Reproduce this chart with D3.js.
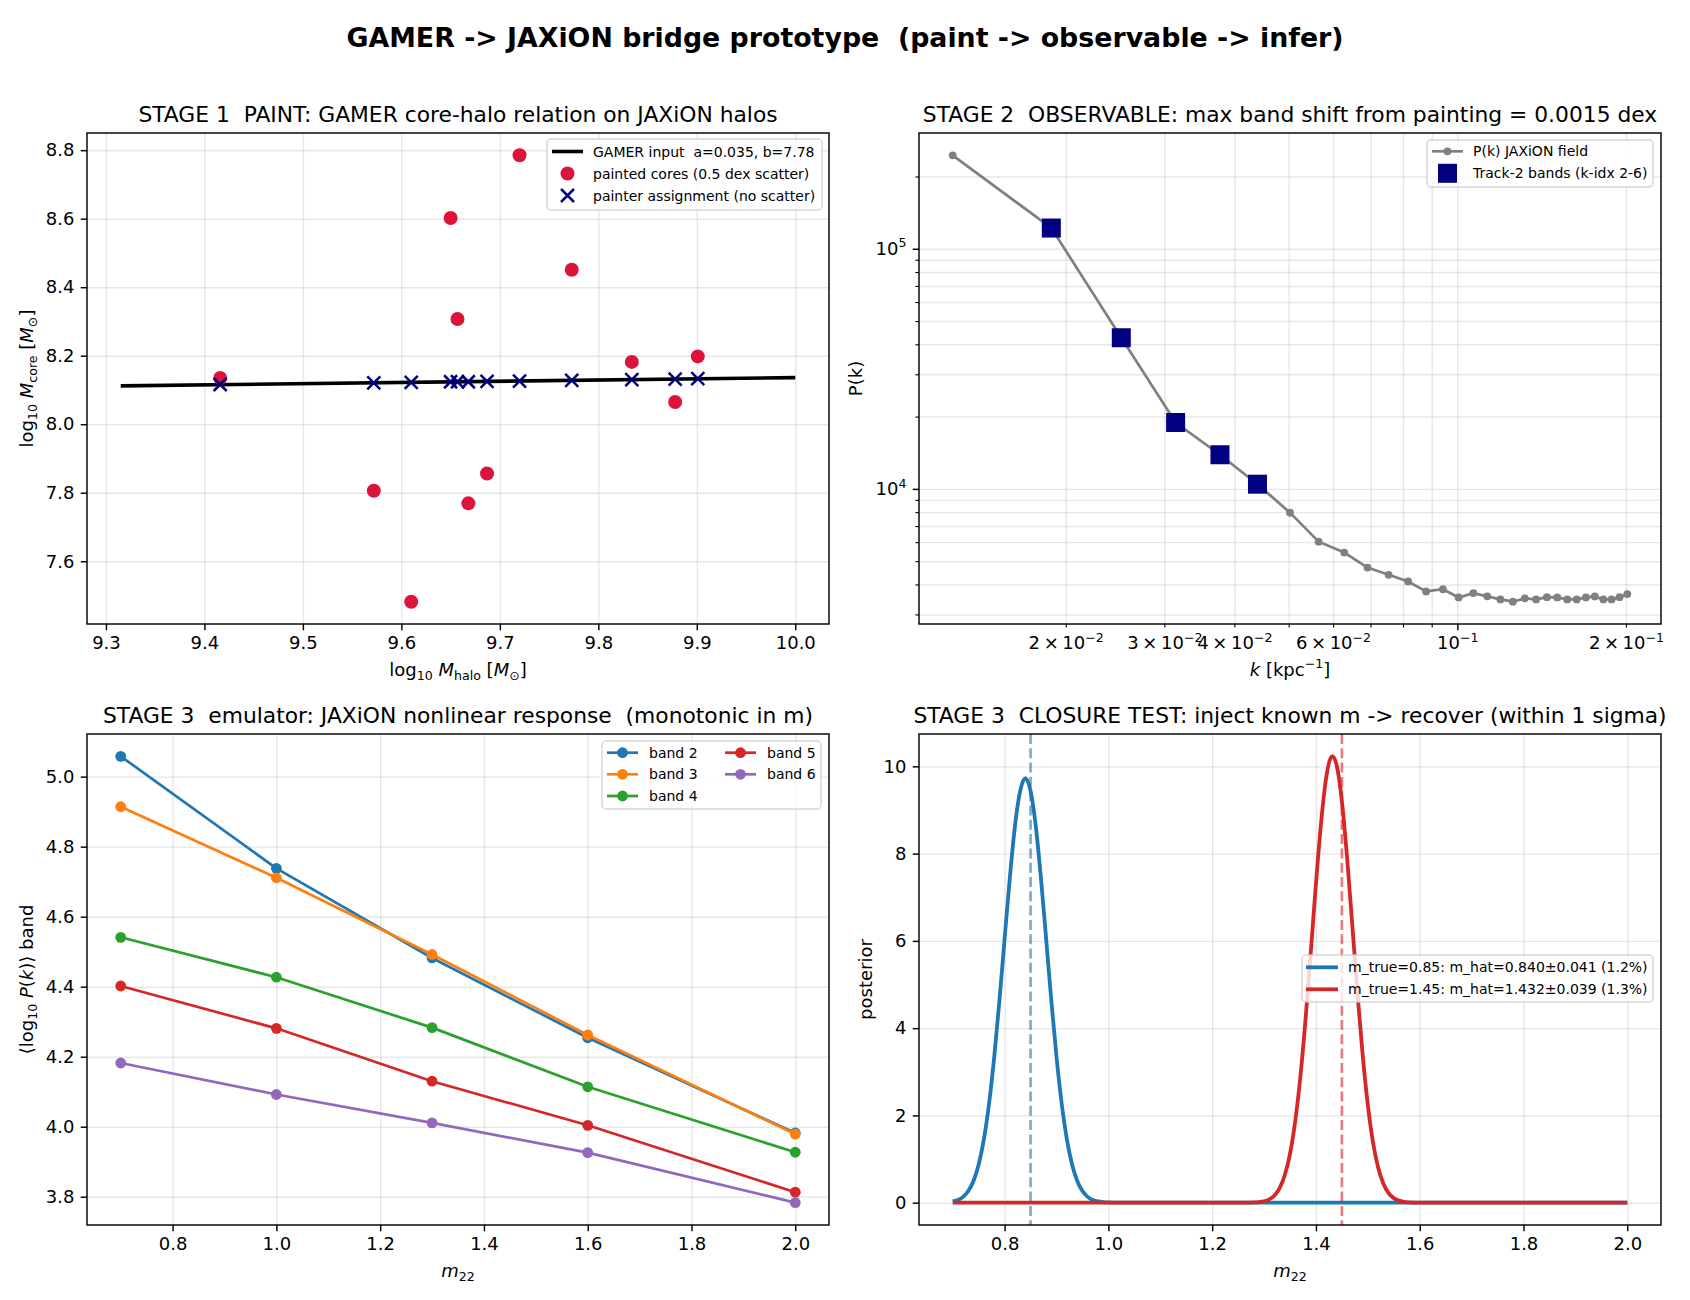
<!DOCTYPE html>
<html>
<head>
<meta charset="utf-8">
<script src="https://cdn.jsdelivr.net/npm/d3@7"></script>
<style>
body { margin: 0; background: #fff; }
text { font-family: "DejaVu Sans", sans-serif; white-space: pre; }
</style>
</head>
<body>
<div id="fig"></div>
<script>
// ---------------------------------------------------------------
// DATA
// ---------------------------------------------------------------

// Stage 1 - paint
var haloLogM      = [9.416, 9.720, 9.650, 9.773, 9.657, 9.834, 9.901, 9.878, 9.572, 9.687, 9.668, 9.610];
var paintedLogMc  = [8.135, 8.785, 8.602, 8.451, 8.307, 8.182, 8.198, 8.065, 7.806, 7.856, 7.769, 7.482];
var assignedLogMc = [8.116, 8.126, 8.124, 8.128, 8.124, 8.130, 8.133, 8.132, 8.121, 8.125, 8.124, 8.122];
var gamerLineX = [9.315, 10.0];
var gamerLineY = [8.112, 8.136];
var tlXTicks = [9.3, 9.4, 9.5, 9.6, 9.7, 9.8, 9.9, 10.0];
var tlXTickLabels = ["9.3", "9.4", "9.5", "9.6", "9.7", "9.8", "9.9", "10.0"];
var tlYTicks = [7.6, 7.8, 8.0, 8.2, 8.4, 8.6, 8.8];
var tlYTickLabels = ["7.6", "7.8", "8.0", "8.2", "8.4", "8.6", "8.8"];
var tlLegendLabels = ["GAMER input  a=0.035, b=7.78", "painted cores (0.5 dex scatter)", "painter assignment (no scatter)"];

// Stage 2 - observable
var kVals = [0.01257, 0.01885, 0.02513, 0.03142, 0.03770, 0.04398, 0.05027, 0.05655, 0.06283, 0.06912,
             0.07540, 0.08168, 0.08796, 0.09425, 0.10053, 0.10681, 0.11310, 0.11938, 0.12566, 0.13195,
             0.13823, 0.14451, 0.15080, 0.15708, 0.16336, 0.16965, 0.17593, 0.18221, 0.18850, 0.19478, 0.20106];
var pkVals = [245000, 122000, 42600, 18900, 13870, 10460, 7960, 6030, 5430, 4700,
              4385, 4115, 3740, 3820, 3530, 3680, 3568, 3465, 3390, 3500,
              3465, 3540, 3530, 3465, 3465, 3532, 3565, 3465, 3465, 3540, 3648];
var bandIdx = [1, 2, 3, 4, 5];
var trXMajor = [0.1];
var trXMinor = [0.02, 0.03, 0.04, 0.05, 0.06, 0.07, 0.08, 0.09, 0.2];
var trXLabelTicks = [0.02, 0.03, 0.04, 0.06, 0.1, 0.2];
var trXTickLabels = ["2\u2009×\u200910^\u22122", "3\u2009×\u200910^\u22122", "4\u2009×\u200910^\u22122",
                     "6\u2009×\u200910^\u22122", "10^\u22121", "2\u2009×\u200910^\u22121"];
var trYMajor = [1e4, 1e5];
var trYTickLabels = ["10^4", "10^5"];
var trYMinor = [3e3, 4e3, 5e3, 6e3, 7e3, 8e3, 9e3, 2e4, 3e4, 4e4, 5e4, 6e4, 7e4, 8e4, 9e4, 2e5];
var trLegendLabels = ["P(k) JAXiON field", "Track-2 bands (k-idx 2-6)"];

// Stage 3 - emulator
var m22 = [0.7, 1.0, 1.3, 1.6, 2.0];
var band2 = [5.058, 4.738, 4.482, 4.254, 3.982];
var band3 = [4.914, 4.711, 4.492, 4.262, 3.979];
var band4 = [4.541, 4.427, 4.283, 4.114, 3.927];
var band5 = [4.402, 4.281, 4.130, 4.004, 3.813];
var band6 = [4.182, 4.092, 4.011, 3.926, 3.783];
var bandNames = ["band 2", "band 3", "band 4", "band 5", "band 6"];
var blXTicks = [0.8, 1.0, 1.2, 1.4, 1.6, 1.8, 2.0];
var blXTickLabels = ["0.8", "1.0", "1.2", "1.4", "1.6", "1.8", "2.0"];
var blYTicks = [3.8, 4.0, 4.2, 4.4, 4.6, 4.8, 5.0];
var blYTickLabels = ["3.8", "4.0", "4.2", "4.4", "4.6", "4.8", "5.0"];

// Stage 3 - closure test
var postXBlue = [0.70, 0.71, 0.72, 0.73, 0.74, 0.75, 0.76, 0.77, 0.78, 0.79, 0.80, 0.81, 0.82, 0.83, 0.84,
                 0.85, 0.86, 0.87, 0.88, 0.89, 0.90, 0.91, 0.92, 0.93, 0.94, 0.95, 0.96, 0.97, 0.98, 0.99,
                 1.00, 1.02, 2.00];
var postYBlue = [0.029, 0.064, 0.134, 0.266, 0.497, 0.875, 1.45, 2.27, 3.34, 4.63, 6.05, 7.44, 8.64, 9.44, 9.73,
                 9.44, 8.64, 7.44, 6.05, 4.63, 3.34, 2.27, 1.45, 0.875, 0.497, 0.266, 0.134, 0.064, 0.029, 0.012,
                 0.005, 0, 0];
var postXRed = [0.70, 1.27, 1.28, 1.29, 1.30, 1.31, 1.32, 1.33, 1.34, 1.35, 1.36, 1.37, 1.38, 1.39, 1.40,
                1.41, 1.42, 1.43, 1.432, 1.44, 1.45, 1.46, 1.47, 1.48, 1.49, 1.50, 1.51, 1.52, 1.53, 1.54,
                1.55, 1.56, 1.57, 1.58, 1.59, 1.61, 2.00];
var postYRed = [0, 0.002, 0.005, 0.014, 0.033, 0.077, 0.166, 0.335, 0.633, 1.12, 1.86, 2.89, 4.21, 5.73, 7.31,
                8.72, 9.76, 10.22, 10.23, 10.02, 9.20, 7.91, 6.37, 4.80, 3.39, 2.24, 1.38, 0.80, 0.436, 0.221,
                0.105, 0.047, 0.019, 0.008, 0.003, 0, 0];
var mTrue = [0.85, 1.45];
var brYTicks = [0, 2, 4, 6, 8, 10];
var brYTickLabels = ["0", "2", "4", "6", "8", "10"];
var brLegendLabels = ["m_true=0.85: m_hat=0.840±0.041 (1.2%)", "m_true=1.45: m_hat=1.432±0.039 (1.3%)"];

// ---------------------------------------------------------------
// SETUP
// ---------------------------------------------------------------
var W = 1690, H = 1300;
var FONT = "DejaVu Sans";
var FS_TICK = 18, FS_LAB = 18, FS_TITLE = 21.8, FS_LEG = 14;
var TICK = 6.3, MINOR = 3.6, LW = 1.44;
var bandColors = ["#1f77b4", "#ff7f0e", "#2ca02c", "#d62728", "#9467bd"];

var svg = d3.select("#fig").append("svg").attr("width", W).attr("height", H);
svg.append("rect").attr("width", W).attr("height", H).attr("fill", "#fff");

var boxes = {
    tl: {x: 87,  y: 133, w: 742, h: 491},
    tr: {x: 919, y: 133, w: 742, h: 491},
    bl: {x: 87,  y: 734, w: 742, h: 491},
    br: {x: 919, y: 734, w: 742, h: 491}
};

function padded(lo, hi) {
    var d = (hi - lo) * 0.05;
    return [lo - d, hi + d];
}

function panel(b) {
    var g = svg.append("g").attr("transform", "translate(" + b.x + "," + b.y + ")");
    return { g: g, grid: g.append("g"), data: g.append("g"), axes: g.append("g"), leg: g.append("g") };
}

// parts: [text, kind]  kind: "" normal, "i" italic, "_" subscript, "^" superscript
function mathText(sel, parts, fs) {
    var shift = 0;
    parts.forEach(function(p) {
        var kind = p[1] || "";
        var target = 0, size = fs;
        if (kind.indexOf("_") >= 0) { target = fs * 0.24; size = fs * 0.7; }
        if (kind.indexOf("^") >= 0) { target = -fs * 0.42; size = fs * 0.7; }
        var t = sel.append("tspan").text(p[0]).attr("font-size", size).attr("dy", target - shift);
        if (kind.indexOf("i") >= 0) t.attr("font-style", "italic");
        shift = target;
    });
}

function supTicks(textSel) {
    textSel.each(function() {
        var s = d3.select(this), str = s.text();
        if (str.indexOf("^") < 0) return;
        var bits = str.split("^");
        s.text(null);
        s.append("tspan").text(bits[0]);
        s.append("tspan").text(bits[1]).attr("font-size", FS_TICK * 0.7).attr("dy", -FS_TICK * 0.42);
    });
}

function dropEmpty(sel) {
    sel.selectAll("text").filter(function() { return !this.textContent; }).remove();
}

function gridStyle(sel) {
    sel.select(".domain").remove();
    sel.selectAll(".tick line").attr("stroke", "#b0b0b0").attr("stroke-opacity", 0.3).attr("stroke-width", LW);
    dropEmpty(sel);
}

function tickStyle(sel, minor) {
    sel.attr("font-family", FONT);
    sel.select(".domain").remove();
    sel.selectAll(".tick line").attr("stroke", "#000").attr("stroke-width", minor ? 1.1 : LW);
    sel.selectAll(".tick text").attr("font-size", FS_TICK).attr("fill", "#000");
    dropEmpty(sel);
    supTicks(sel.selectAll(".tick text"));
}

function drawAxes(p, b, xs, ys, o) {
    // grid
    p.grid.append("g").attr("transform", "translate(0," + b.h + ")")
        .call(d3.axisBottom(xs).tickValues(o.xGrid).tickSize(-b.h).tickFormat(""))
        .call(gridStyle);
    p.grid.append("g")
        .call(d3.axisLeft(ys).tickValues(o.yGrid).tickSize(-b.w).tickFormat(""))
        .call(gridStyle);

    // major ticks
    p.axes.append("g").attr("transform", "translate(0," + b.h + ")")
        .call(d3.axisBottom(xs).tickValues(o.xTicks).tickSize(TICK).tickPadding(TICK)
            .tickFormat(function(d, i) { return o.xLabels[i]; }))
        .call(tickStyle, false);
    p.axes.append("g")
        .call(d3.axisLeft(ys).tickValues(o.yTicks).tickSize(TICK).tickPadding(TICK)
            .tickFormat(function(d, i) { return o.yLabels[i]; }))
        .call(tickStyle, false);

    // minor ticks (log axes)
    if (o.xMinor) {
        p.axes.append("g").attr("transform", "translate(0," + b.h + ")")
            .call(d3.axisBottom(xs).tickValues(o.xMinor).tickSize(MINOR).tickFormat(""))
            .call(tickStyle, true);
    }
    if (o.yMinor) {
        p.axes.append("g")
            .call(d3.axisLeft(ys).tickValues(o.yMinor).tickSize(MINOR).tickFormat(""))
            .call(tickStyle, true);
    }
    // labels at log positions
    if (o.xLogLabels) {
        p.axes.append("g").attr("transform", "translate(0," + b.h + ")")
            .call(d3.axisBottom(xs).tickValues(o.xLogLabelTicks).tickSize(0).tickPadding(2 * TICK)
                .tickFormat(function(d, i) { return o.xLogLabels[i]; }))
            .call(tickStyle, true);
    }

    // spines
    p.axes.append("rect").attr("width", b.w).attr("height", b.h)
        .attr("fill", "none").attr("stroke", "#000").attr("stroke-width", LW);

    // title
    p.axes.append("text").attr("x", b.w / 2).attr("y", -11)
        .attr("text-anchor", "middle").attr("font-size", FS_TITLE).text(o.title);

    // x label
    var xl = p.axes.append("text").attr("x", b.w / 2).attr("y", b.h + 52)
        .attr("text-anchor", "middle").attr("font-size", FS_LAB);
    mathText(xl, o.xLabel, FS_LAB);

    // y label
    var yl = p.axes.append("text")
        .attr("transform", "translate(" + o.yLabelX + "," + (b.h / 2) + ") rotate(-90)")
        .attr("text-anchor", "middle").attr("font-size", FS_LAB);
    mathText(yl, o.yLabel, FS_LAB);
}

function legendBox(p, x, y, w, h) {
    p.leg.append("rect").attr("x", x).attr("y", y).attr("width", w).attr("height", h)
        .attr("rx", 4).attr("ry", 4)
        .attr("fill", "#fff").attr("fill-opacity", 0.8)
        .attr("stroke", "#cccccc").attr("stroke-opacity", 0.8).attr("stroke-width", LW);
}

function legendText(p, x, y, str) {
    p.leg.append("text").attr("x", x).attr("y", y).attr("dy", "0.36em")
        .attr("font-size", FS_LEG).text(str);
}

// ---------------------------------------------------------------
// SUPTITLE
// ---------------------------------------------------------------
svg.append("text").attr("x", W / 2).attr("y", 47).attr("text-anchor", "middle")
    .attr("font-size", 26.8).attr("font-weight", "bold")
    .text("GAMER -> JAXiON bridge prototype  (paint -> observable -> infer)");

// ---------------------------------------------------------------
// STAGE 1 PAINT
// ---------------------------------------------------------------
(function() {
    var b = boxes.tl, p = panel(b);
    var xs = d3.scaleLinear()
        .domain(padded(d3.min(gamerLineX.concat(haloLogM)), d3.max(gamerLineX.concat(haloLogM))))
        .range([0, b.w]);
    var allY = gamerLineY.concat(paintedLogMc, assignedLogMc);
    var ys = d3.scaleLinear().domain(padded(d3.min(allY), d3.max(allY))).range([b.h, 0]);

    drawAxes(p, b, xs, ys, {
        xGrid: tlXTicks, yGrid: tlYTicks,
        xTicks: tlXTicks, xLabels: tlXTickLabels,
        yTicks: tlYTicks, yLabels: tlYTickLabels,
        title: "STAGE 1  PAINT: GAMER core-halo relation on JAXiON halos",
        xLabel: [["log"], ["10", "_"], [" "], ["M", "i"], ["halo", "_"], [" ["], ["M", "i"], ["\u2299", "_"], ["]"]],
        yLabel: [["log"], ["10", "_"], [" "], ["M", "i"], ["core", "_"], [" ["], ["M", "i"], ["\u2299", "_"], ["]"]],
        yLabelX: -54
    });

    // GAMER line
    var line = d3.line().x(function(d) { return xs(d[0]); }).y(function(d) { return ys(d[1]); });
    p.data.append("path").datum(d3.zip(gamerLineX, gamerLineY))
        .attr("d", line).attr("fill", "none").attr("stroke", "#000").attr("stroke-width", 3.6);

    // painted cores
    p.data.selectAll(".core").data(d3.zip(haloLogM, paintedLogMc)).enter()
        .append("circle").attr("class", "core")
        .attr("cx", function(d) { return xs(d[0]); })
        .attr("cy", function(d) { return ys(d[1]); })
        .attr("r", 7).attr("fill", "crimson");

    // painter assignment crosses
    var cr = 6.5;
    function cross(x, y) {
        return "M" + (x - cr) + "," + (y - cr) + "L" + (x + cr) + "," + (y + cr) +
               "M" + (x - cr) + "," + (y + cr) + "L" + (x + cr) + "," + (y - cr);
    }
    p.data.selectAll(".assign").data(d3.zip(haloLogM, assignedLogMc)).enter()
        .append("path").attr("class", "assign")
        .attr("d", function(d) { return cross(xs(d[0]), ys(d[1])); })
        .attr("stroke", "navy").attr("stroke-width", 2.5).attr("fill", "none");

    // legend
    legendBox(p, 460, 6, 275, 71);
    var rows = [18.5, 40.5, 62.5];
    p.leg.append("line").attr("x1", 465).attr("x2", 496).attr("y1", rows[0]).attr("y2", rows[0])
        .attr("stroke", "#000").attr("stroke-width", 3.6);
    p.leg.append("circle").attr("cx", 480.5).attr("cy", rows[1]).attr("r", 7).attr("fill", "crimson");
    p.leg.append("path").attr("d", cross(480.5, rows[2]))
        .attr("stroke", "navy").attr("stroke-width", 2.5);
    tlLegendLabels.forEach(function(t, i) { legendText(p, 506, rows[i], t); });
})();

// ---------------------------------------------------------------
// STAGE 2 OBSERVABLE
// ---------------------------------------------------------------
(function() {
    var b = boxes.tr, p = panel(b);
    var lk = padded(Math.log10(d3.min(kVals)), Math.log10(d3.max(kVals)));
    var lp = padded(Math.log10(d3.min(pkVals)), Math.log10(d3.max(pkVals)));
    var xs = d3.scaleLog().domain([Math.pow(10, lk[0]), Math.pow(10, lk[1])]).range([0, b.w]);
    var ys = d3.scaleLog().domain([Math.pow(10, lp[0]), Math.pow(10, lp[1])]).range([b.h, 0]);

    drawAxes(p, b, xs, ys, {
        xGrid: trXMinor.concat(trXMajor), yGrid: trYMinor.concat(trYMajor),
        xTicks: trXMajor, xLabels: [""],
        yTicks: trYMajor, yLabels: trYTickLabels,
        xMinor: trXMinor, yMinor: trYMinor,
        xLogLabelTicks: trXLabelTicks, xLogLabels: trXTickLabels,
        title: "STAGE 2  OBSERVABLE: max band shift from painting = 0.0015 dex",
        xLabel: [["k", "i"], [" [kpc"], ["\u22121", "^"], ["]"]],
        yLabel: [["P(k)"]],
        yLabelX: -57
    });

    var pts = d3.zip(kVals, pkVals);
    var line = d3.line().x(function(d) { return xs(d[0]); }).y(function(d) { return ys(d[1]); });
    p.data.append("path").datum(pts).attr("d", line)
        .attr("fill", "none").attr("stroke", "gray").attr("stroke-width", 2.7);
    p.data.selectAll(".pk").data(pts).enter().append("circle").attr("class", "pk")
        .attr("cx", function(d) { return xs(d[0]); })
        .attr("cy", function(d) { return ys(d[1]); })
        .attr("r", 3.9).attr("fill", "gray");

    var sq = 19;
    p.data.selectAll(".band").data(bandIdx).enter().append("rect").attr("class", "band")
        .attr("x", function(i) { return xs(kVals[i]) - sq / 2; })
        .attr("y", function(i) { return ys(pkVals[i]) - sq / 2; })
        .attr("width", sq).attr("height", sq).attr("fill", "navy");

    // legend
    legendBox(p, 508, 7, 226, 47);
    var rows = [18.3, 40.3];
    p.leg.append("line").attr("x1", 513).attr("x2", 544).attr("y1", rows[0]).attr("y2", rows[0])
        .attr("stroke", "gray").attr("stroke-width", 2.7);
    p.leg.append("circle").attr("cx", 528.5).attr("cy", rows[0]).attr("r", 3.9).attr("fill", "gray");
    p.leg.append("rect").attr("x", 528.5 - sq / 2).attr("y", rows[1] - sq / 2)
        .attr("width", sq).attr("height", sq).attr("fill", "navy");
    trLegendLabels.forEach(function(t, i) { legendText(p, 554, rows[i], t); });
})();

// ---------------------------------------------------------------
// STAGE 3 EMULATOR
// ---------------------------------------------------------------
(function() {
    var b = boxes.bl, p = panel(b);
    var bands = [band2, band3, band4, band5, band6];
    var allY = d3.merge(bands);
    var xs = d3.scaleLinear().domain(padded(d3.min(m22), d3.max(m22))).range([0, b.w]);
    var ys = d3.scaleLinear().domain(padded(d3.min(allY), d3.max(allY))).range([b.h, 0]);

    drawAxes(p, b, xs, ys, {
        xGrid: blXTicks, yGrid: blYTicks,
        xTicks: blXTicks, xLabels: blXTickLabels,
        yTicks: blYTicks, yLabels: blYTickLabels,
        title: "STAGE 3  emulator: JAXiON nonlinear response  (monotonic in m)",
        xLabel: [["m", "i"], ["22", "_"]],
        yLabel: [["\u27e8log"], ["10", "_"], [" "], ["P", "i"], ["("], ["k", "i"], [")\u27e9 band"]],
        yLabelX: -54
    });

    var line = d3.line().x(function(d) { return xs(d[0]); }).y(function(d) { return ys(d[1]); });
    bands.forEach(function(vals, bi) {
        var pts = d3.zip(m22, vals);
        var g = p.data.append("g");
        g.append("path").datum(pts).attr("d", line)
            .attr("fill", "none").attr("stroke", bandColors[bi]).attr("stroke-width", 2.7);
        g.selectAll("circle").data(pts).enter().append("circle")
            .attr("cx", function(d) { return xs(d[0]); })
            .attr("cy", function(d) { return ys(d[1]); })
            .attr("r", 5.4).attr("fill", bandColors[bi]);
    });

    // legend (2 columns)
    legendBox(p, 515, 7, 219, 68);
    var rows = [18.7, 40.3, 62];
    var cols = [520, 638];
    bandNames.forEach(function(name, i) {
        var c = i < 3 ? 0 : 1, r = i < 3 ? i : i - 3;
        var x0 = cols[c], y0 = rows[r];
        p.leg.append("line").attr("x1", x0).attr("x2", x0 + 31).attr("y1", y0).attr("y2", y0)
            .attr("stroke", bandColors[i]).attr("stroke-width", 2.7);
        p.leg.append("circle").attr("cx", x0 + 15.5).attr("cy", y0).attr("r", 5.4).attr("fill", bandColors[i]);
        legendText(p, x0 + 42, y0, name);
    });
})();

// ---------------------------------------------------------------
// STAGE 3 CLOSURE TEST
// ---------------------------------------------------------------
(function() {
    var b = boxes.br, p = panel(b);
    var allX = postXBlue.concat(postXRed), allY = postYBlue.concat(postYRed);
    var xs = d3.scaleLinear().domain(padded(d3.min(allX), d3.max(allX))).range([0, b.w]);
    var ys = d3.scaleLinear().domain(padded(d3.min(allY), d3.max(allY))).range([b.h, 0]);

    drawAxes(p, b, xs, ys, {
        xGrid: blXTicks, yGrid: brYTicks,
        xTicks: blXTicks, xLabels: blXTickLabels,
        yTicks: brYTicks, yLabels: brYTickLabels,
        title: "STAGE 3  CLOSURE TEST: inject known m -> recover (within 1 sigma)",
        xLabel: [["m", "i"], ["22", "_"]],
        yLabel: [["posterior"]],
        yLabelX: -47
    });

    var line = d3.line().curve(d3.curveMonotoneX)
        .x(function(d) { return xs(d[0]); }).y(function(d) { return ys(d[1]); });
    var curves = [d3.zip(postXBlue, postYBlue), d3.zip(postXRed, postYRed)];
    var colors = ["#1f77b4", "#d62728"];
    curves.forEach(function(pts, i) {
        p.data.append("path").datum(pts).attr("d", line)
            .attr("fill", "none").attr("stroke", colors[i]).attr("stroke-width", 3.8);
        p.data.append("line")
            .attr("x1", xs(mTrue[i])).attr("x2", xs(mTrue[i]))
            .attr("y1", 0).attr("y2", b.h)
            .attr("stroke", colors[i]).attr("stroke-opacity", 0.6)
            .attr("stroke-width", 2.7).attr("stroke-dasharray", "10,4.3");
    });

    // legend
    legendBox(p, 383, 221, 351, 47);
    var rows = [233.3, 255.3];
    brLegendLabels.forEach(function(t, i) {
        p.leg.append("line").attr("x1", 387).attr("x2", 419).attr("y1", rows[i]).attr("y2", rows[i])
            .attr("stroke", colors[i]).attr("stroke-width", 3.8);
        legendText(p, 429, rows[i], t);
    });
})();
</script>
</body>
</html>
